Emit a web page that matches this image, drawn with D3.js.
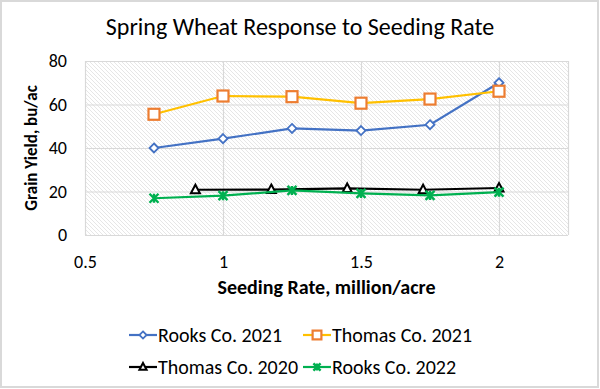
<!DOCTYPE html>
<html><head><meta charset="utf-8">
<script src="https://cdn.jsdelivr.net/npm/d3@7"></script>
<style>body{margin:0;background:#fff}svg{display:block}</style>
</head><body><div id="chart"></div>
<script>
const chartTitle = "Spring Wheat Response to Seeding Rate";
const xTitle = "Seeding Rate, million/acre";
const yTitle = "Grain Yield, bu/ac";
const xTicks = [0.5, 1, 1.5, 2];
const yTicks = [0, 20, 40, 60, 80];
const rooks2021X = [0.75, 1, 1.25, 1.5, 1.75, 2];
const rooks2021Y = [40, 44.3, 49, 48, 50.7, 70];
const thomas2021X = [0.75, 1, 1.25, 1.5, 1.75, 2];
const thomas2021Y = [55.5, 63.9, 63.6, 60.6, 62.5, 66.1];
const thomas2020X = [0.9, 1.175, 1.45, 1.725, 2];
const thomas2020Y = [20.8, 20.9, 21.4, 20.8, 21.6];
const rooks2022X = [0.75, 1, 1.25, 1.5, 1.75, 2];
const rooks2022Y = [16.9, 18.1, 20.5, 19.1, 18.2, 19.7];
const seriesNames = ["Rooks Co. 2021", "Thomas Co. 2021", "Thomas Co. 2020", "Rooks Co. 2022"];

const series = [
  {name: seriesNames[0], xs: rooks2021X, ys: rooks2021Y, line: "#4472C4", mark: "#4472C4", shape: "diamond"},
  {name: seriesNames[1], xs: thomas2021X, ys: thomas2021Y, line: "#FFC000", mark: "#ED7D31", shape: "square"},
  {name: seriesNames[2], xs: thomas2020X, ys: thomas2020Y, line: "#000000", mark: "#000000", shape: "triangle"},
  {name: seriesNames[3], xs: rooks2022X, ys: rooks2022Y, line: "#00B050", mark: "#00B050", shape: "star"}
];

const W = 600, H = 389;
const font = "Carlito, Lato, 'Open Sans', sans-serif";
const svg = d3.select("#chart").append("svg").attr("width", W).attr("height", H);
svg.append("rect").attr("x",1).attr("y",1).attr("width",W-3).attr("height",H-3)
  .attr("fill","#fff").attr("stroke","#d9d9d9").attr("stroke-width",2);

const defs = svg.append("defs");
const pat = defs.append("pattern").attr("id","hatch").attr("patternUnits","userSpaceOnUse")
  .attr("width",4).attr("height",4);
pat.append("rect").attr("width",4).attr("height",4).attr("fill","#ffffff");
pat.append("path").attr("d","M-1,-1 L5,5 M-1,3 L1,5 M3,-1 L5,1").attr("stroke","#e6e6e6").attr("stroke-width",1);

const x = d3.scaleLinear().domain([0.5, 2.25]).range([85, 568]);
const y = d3.scaleLinear().domain([0, 80]).range([235, 61]);

svg.append("rect").attr("x",x(0.5)).attr("y",y(80)).attr("width",x(2.25)-x(0.5)).attr("height",y(0)-y(80))
  .attr("fill","url(#hatch)");

// gridlines
const gx = svg.append("g").attr("transform",`translate(0,${y(0)})`)
  .call(d3.axisBottom(x).tickValues(xTicks.concat([2.25])).tickSize(-(y(0)-y(80))).tickFormat(""));
gx.select(".domain").remove();
gx.selectAll("line").attr("stroke","#d9d9d9").attr("stroke-width",1.2);
const gy = svg.append("g").attr("transform",`translate(${x(0.5)},0)`)
  .call(d3.axisLeft(y).tickValues(yTicks).tickSize(-(x(2.25)-x(0.5))).tickFormat(""));
gy.select(".domain").remove();
gy.selectAll("line").attr("stroke","#d9d9d9").attr("stroke-width",1.2);

// tick labels
const xa = svg.append("g").attr("transform",`translate(0,${y(0)})`)
  .call(d3.axisBottom(x).tickValues(xTicks).tickSize(0).tickPadding(20).tickFormat(d3.format("")));
xa.select(".domain").remove();
xa.selectAll("text").attr("font-family",font).attr("font-size",18).attr("fill","#000");
const ya = svg.append("g").attr("transform",`translate(${x(0.5)},0)`)
  .call(d3.axisLeft(y).tickValues(yTicks).tickSize(0).tickPadding(18));
ya.select(".domain").remove();
ya.selectAll("text").attr("font-family",font).attr("font-size",18).attr("fill","#000");

svg.append("text").attr("x",300).attr("y",35).attr("text-anchor","middle")
  .attr("font-family",font).attr("font-size",24).attr("fill","#000").text(chartTitle);
svg.append("text").attr("x",x(1.375)).attr("y",294).attr("text-anchor","middle")
  .attr("font-family",font).attr("font-size",20).attr("font-weight","bold").attr("fill","#000").text(xTitle);
svg.append("text").attr("transform","translate(37,148) rotate(-90)").attr("text-anchor","middle")
  .attr("font-family",font).attr("font-size",17).attr("font-weight","bold").attr("fill","#000").text(yTitle);

function drawMarker(g, s, cx, cy, scale) {
  const k = scale || 1;
  if (s.shape === "diamond") {
    g.append("path").attr("d",`M${cx},${cy-4.5*k} L${cx+4.5*k},${cy} L${cx},${cy+4.5*k} L${cx-4.5*k},${cy} Z`)
      .attr("fill","#fff").attr("stroke",s.mark).attr("stroke-width",1.8);
  } else if (s.shape === "square") {
    g.append("rect").attr("x",cx-5.5*k).attr("y",cy-5.5*k).attr("width",11*k).attr("height",11*k)
      .attr("fill","#fff").attr("stroke",s.mark).attr("stroke-width",2.2);
  } else if (s.shape === "triangle") {
    g.append("path").attr("d",`M${cx},${cy-5*k} L${cx+4.5*k},${cy+3.5*k} L${cx-4.5*k},${cy+3.5*k} Z`)
      .attr("fill","#fff").attr("stroke",s.mark).attr("stroke-width",2);
  } else {
    const r = 4.5*k;
    g.append("path").attr("d",`M${cx-r},${cy-r} L${cx+r},${cy+r} M${cx-r},${cy+r} L${cx+r},${cy-r} M${cx},${cy-r} L${cx},${cy+r}`)
      .attr("stroke",s.mark).attr("stroke-width",2.4).attr("fill","none");
  }
}

const line = d3.line().x(d => x(d[0])).y(d => y(d[1]));
series.forEach(s => {
  const pts = s.xs.map((v,i) => [v, s.ys[i]]);
  const g = svg.append("g");
  g.append("path").datum(pts).attr("d",line).attr("fill","none").attr("stroke",s.line).attr("stroke-width",2.2);
  pts.forEach(p => drawMarker(g, s, x(p[0]), y(p[1])));
});

// legend
const legPos = [[129,335],[303,335],[129,367],[303,367]];
series.forEach((s,i) => {
  const [lx, ly] = legPos[i];
  const g = svg.append("g");
  g.append("line").attr("x1",lx).attr("x2",lx+28).attr("y1",ly).attr("y2",ly).attr("stroke",s.line).attr("stroke-width",2.2);
  drawMarker(g, s, lx+14, ly, 0.8);
  g.append("text").attr("x",lx+29).attr("y",ly+7).attr("font-family",font).attr("font-size",20).attr("fill","#000").text(s.name);
});
</script></body></html>
